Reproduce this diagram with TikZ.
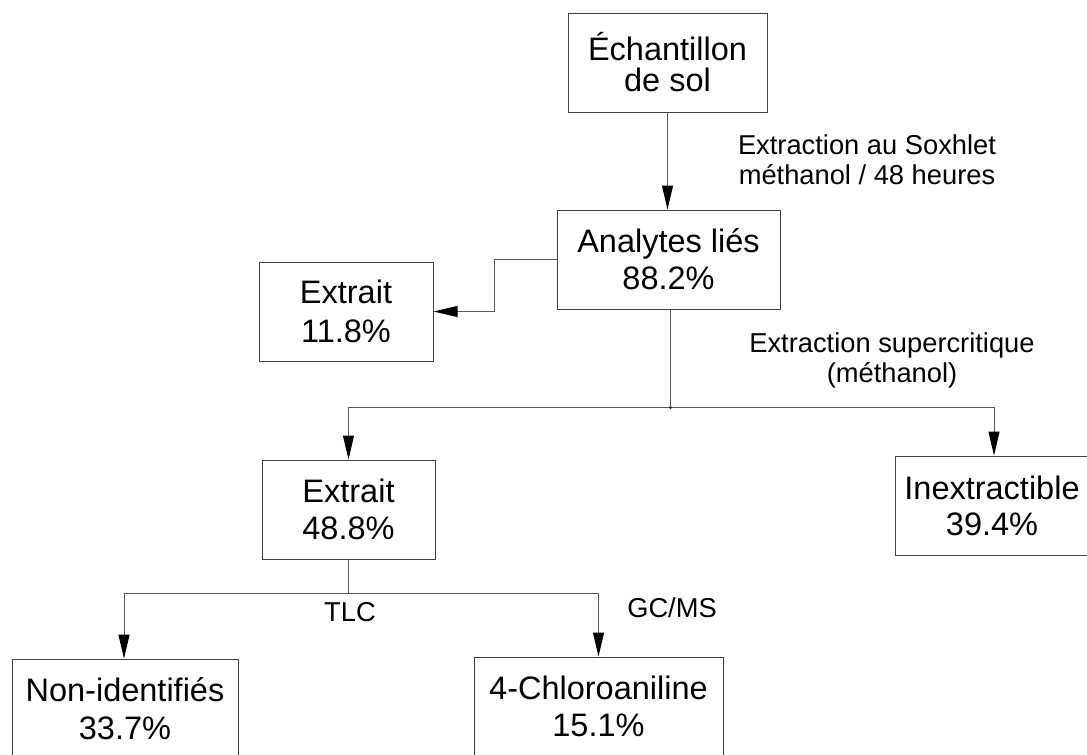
\documentclass[tikz,border=0pt]{standalone}
\usepackage{fontspec}
\setmainfont{Liberation Sans}
\usetikzlibrary{arrows.meta}
\begin{document}
\begin{tikzpicture}[x=1pt,y=-1pt,
  box/.style={draw=black!75, line width=1pt, inner sep=0pt, align=center,
    font=\fontsize{32.5}{37}\selectfont, minimum height=99pt},
  lbl/.style={align=center, inner sep=0pt, font=\fontsize{27.3}{30}\selectfont},
  conn/.style={draw=black!65, line width=1pt},
  arr/.style={conn, -{Triangle[length=24pt,width=11pt,fill=black,color=black]}}]
\useasboundingbox (0,0) rectangle (1087,755);
\fill[white] (0,0) rectangle (1087,755);
\begin{scope}
\clip (0,0) rectangle (1087,755);
% boxes
\node[box, minimum width=199pt, font=\fontsize{32.5}{31}\selectfont] (ech) at (667.5,62.5) {Échantillon\\de sol};
\node[box, minimum width=223pt] (ana) at (668.5,259.5) {Analytes liés\\88.2\%};
\node[box, minimum width=174pt, font=\fontsize{32.5}{39}\selectfont] (ex1) at (346,311.5) {Extrait\\11.8\%};
\node[box, minimum width=173pt] (ex2) at (348.5,509.5) {Extrait\\48.8\%};
\node[box, minimum width=194pt, font=\fontsize{32.5}{36}\selectfont] (inex) at (992,505.5) {Inextractible\\39.4\%};
\node[box, minimum width=226pt, font=\fontsize{32.5}{38}\selectfont] (nonid) at (125,708.5) {Non-identifiés\\33.7\%};
\node[box, minimum width=249pt] (chloro) at (598.5,706.5) {4-Chloroaniline\\15.1\%};
% labels
\node[lbl] (l1) at (867,160) {Extraction au Soxhlet\\méthanol / 48 heures};
\node[lbl] (l2) at (892,360) {Extraction supercritique\\(méthanol)};
\node[lbl] (l3) at (350,612) {TLC};
\node[lbl] (l4) at (672,608) {GC/MS};
% connectors
\draw[arr] (ech.south) -- (ech.south |- ana.north);
\draw[arr] (ana.west) -- ++(-62,0) |- (ex1.east);
\path (ana.south) ++(2,98) coordinate (j1);
\draw[conn] (ana.south -| j1) -- (j1);
\draw[arr] (j1) -| (ex2.north);
\draw[arr] (j1) -| ([xshift=2pt]inex.north);
\fill[black!80] (j1) circle (1.6pt);
\path (ex2.south) ++(0,34) coordinate (j2);
\draw[conn] (ex2.south) -- (j2);
\draw[arr] (j2) -| ([xshift=-1pt]nonid.north);
\draw[arr] (j2) -| (chloro.north);
\end{scope}
\end{tikzpicture}
\end{document}
